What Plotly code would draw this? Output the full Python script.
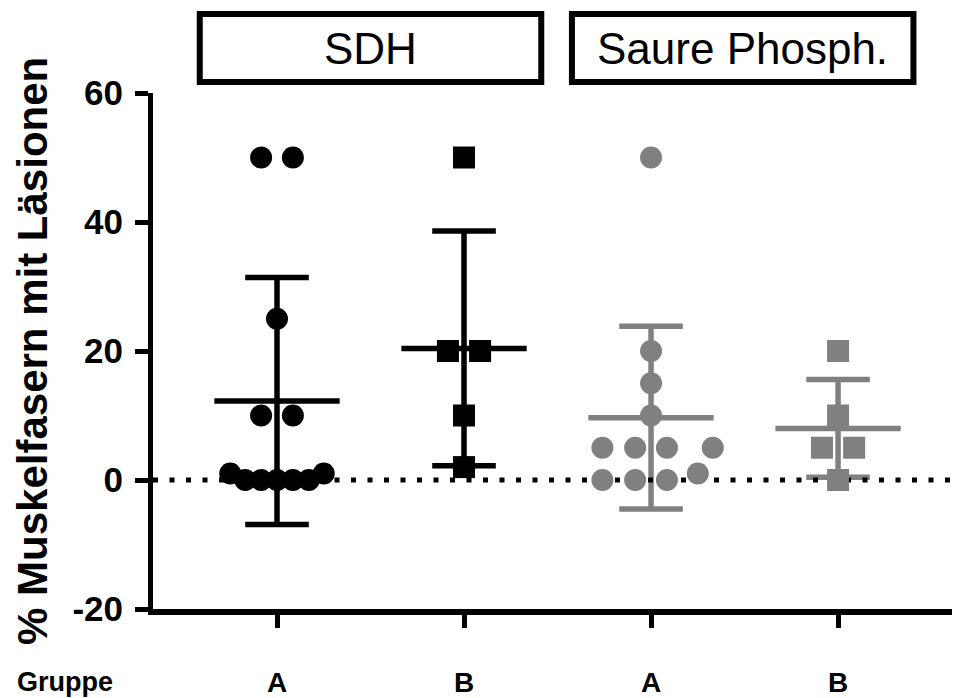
import plotly.graph_objects as go

# ---------------- data ----------------
tick_labels = ["A", "B", "A", "B"]
group_pos = [0, 1, 2, 3]
panel_titles = ["SDH", "Saure Phosph."]
y_ticks = [-20, 0, 20, 40, 60]
y_tick_labels = ["-20", "0", "20", "40", "60"]

sdh_a = [50, 50, 25, 10, 10, 1, 1, 0, 0, 0, 0, 0]
sdh_b = [50, 20, 20, 10, 2]
sp_a = [50, 20, 15, 10, 5, 5, 5, 5, 1, 0, 0, 0]
sp_b = [20, 10, 5, 5, 0]

# horizontal scatter (swarm) offsets of the points, in category units
sdh_a_jit = [-0.085, 0.085, 0, -0.085, 0.085, -0.25, 0.25, -0.17, -0.085, 0, 0.085, 0.17]
sdh_b_jit = [0, -0.086, 0.086, 0, 0]
sp_a_jit = [0, 0, 0, 0, -0.26, -0.085, 0.085, 0.33, 0.25, -0.26, -0.085, 0.085]
sp_b_jit = [0, 0, -0.086, 0.086, 0]

# mean and SD per group
means = [12.25, 20.4, 9.67, 8.0]
sds = [19.13, 18.19, 14.16, 7.58]

# ---------------- style ----------------
BLACK = "#000000"
GREY = "#808080"
FONT = "Liberation Sans, Arial, sans-serif"
colors = [BLACK, BLACK, GREY, GREY]
symbols = ["circle", "square", "circle", "square"]
groups = [(sdh_a, sdh_a_jit), (sdh_b, sdh_b_jit), (sp_a, sp_a_jit), (sp_b, sp_b_jit)]

XRANGE = [-0.663, 3.652]
YRANGE = [-20, 60]
MEAN_HW = 0.335
CAP_HW = 0.17

fig = go.Figure()

# error bars (mean line + SD whiskers)
for i, c in enumerate(group_pos):
    m, s = means[i], sds[i]
    xs = [c - MEAN_HW, c + MEAN_HW, None,
          c, c, None,
          c - CAP_HW, c + CAP_HW, None,
          c - CAP_HW, c + CAP_HW]
    ys = [m, m, None,
          m - s, m + s, None,
          m + s, m + s, None,
          m - s, m - s]
    fig.add_trace(go.Scatter(x=xs, y=ys, mode="lines",
                             line=dict(color=colors[i], width=5.5),
                             hoverinfo="skip", showlegend=False))

# dotted zero line
fig.add_trace(go.Scatter(x=XRANGE, y=[0, 0], mode="lines",
                         line=dict(color=BLACK, width=5, dash="5px,11.5px"),
                         hoverinfo="skip", showlegend=False))

# points
for i, (vals, jit) in enumerate(groups):
    c = group_pos[i]
    fig.add_trace(go.Scatter(
        x=[c + j for j in jit], y=vals, mode="markers",
        marker=dict(symbol=symbols[i], size=22, color=colors[i], line=dict(width=0)),
        showlegend=False))

# panel title boxes
box_centers = [0.5, 2.49]
BOX_HW = 0.913
for ctr, title in zip(box_centers, panel_titles):
    fig.add_shape(type="rect", xref="x", yref="paper",
                  x0=ctr - BOX_HW, x1=ctr + BOX_HW, y0=1.0213, y1=1.153,
                  line=dict(color=BLACK, width=6), fillcolor="rgba(0,0,0,0)")
    fig.add_annotation(x=ctr, xref="x", y=1.087, yref="paper", text=title,
                       showarrow=False, xanchor="center", yanchor="middle",
                       font=dict(family=FONT, size=44, color=BLACK))

# y-axis title
fig.add_annotation(x=-0.150, xref="paper", y=0.5, yref="paper",
                   text="% Muskelfasern mit Läsionen", textangle=-90,
                   showarrow=False, xanchor="center", yanchor="middle",
                   font=dict(family=FONT, size=42, color=BLACK, weight="bold"))

# "Gruppe" row label
fig.add_annotation(x=-0.109, xref="paper", y=-0.1415, yref="paper",
                   text="Gruppe", showarrow=False, xanchor="center", yanchor="middle",
                   font=dict(family=FONT, size=27, color=BLACK, weight="bold"))

fig.update_layout(
    width=952, height=690,
    margin=dict(l=145, r=0, t=85, b=89, autoexpand=False),
    paper_bgcolor="white", plot_bgcolor="white",
    xaxis=dict(range=XRANGE, tickmode="array", tickvals=group_pos, ticktext=tick_labels,
               showline=True, linecolor=BLACK, linewidth=6, automargin=False,
               ticks="outside", ticklen=13, tickwidth=5, tickcolor=BLACK,
               showgrid=False, zeroline=False, ticklabelstandoff=30,
               tickfont=dict(family=FONT, size=28, color=BLACK, weight="bold")),
    yaxis=dict(range=YRANGE, tickmode="array", tickvals=y_ticks, ticktext=y_tick_labels,
               showline=True, linecolor=BLACK, linewidth=5, automargin=False,
               ticks="outside", ticklen=13, tickwidth=5, tickcolor=BLACK,
               showgrid=False, zeroline=False, ticklabelstandoff=5,
               tickfont=dict(family=FONT, size=35, color=BLACK, weight="bold")),
)

fig.write_html("out.html")
